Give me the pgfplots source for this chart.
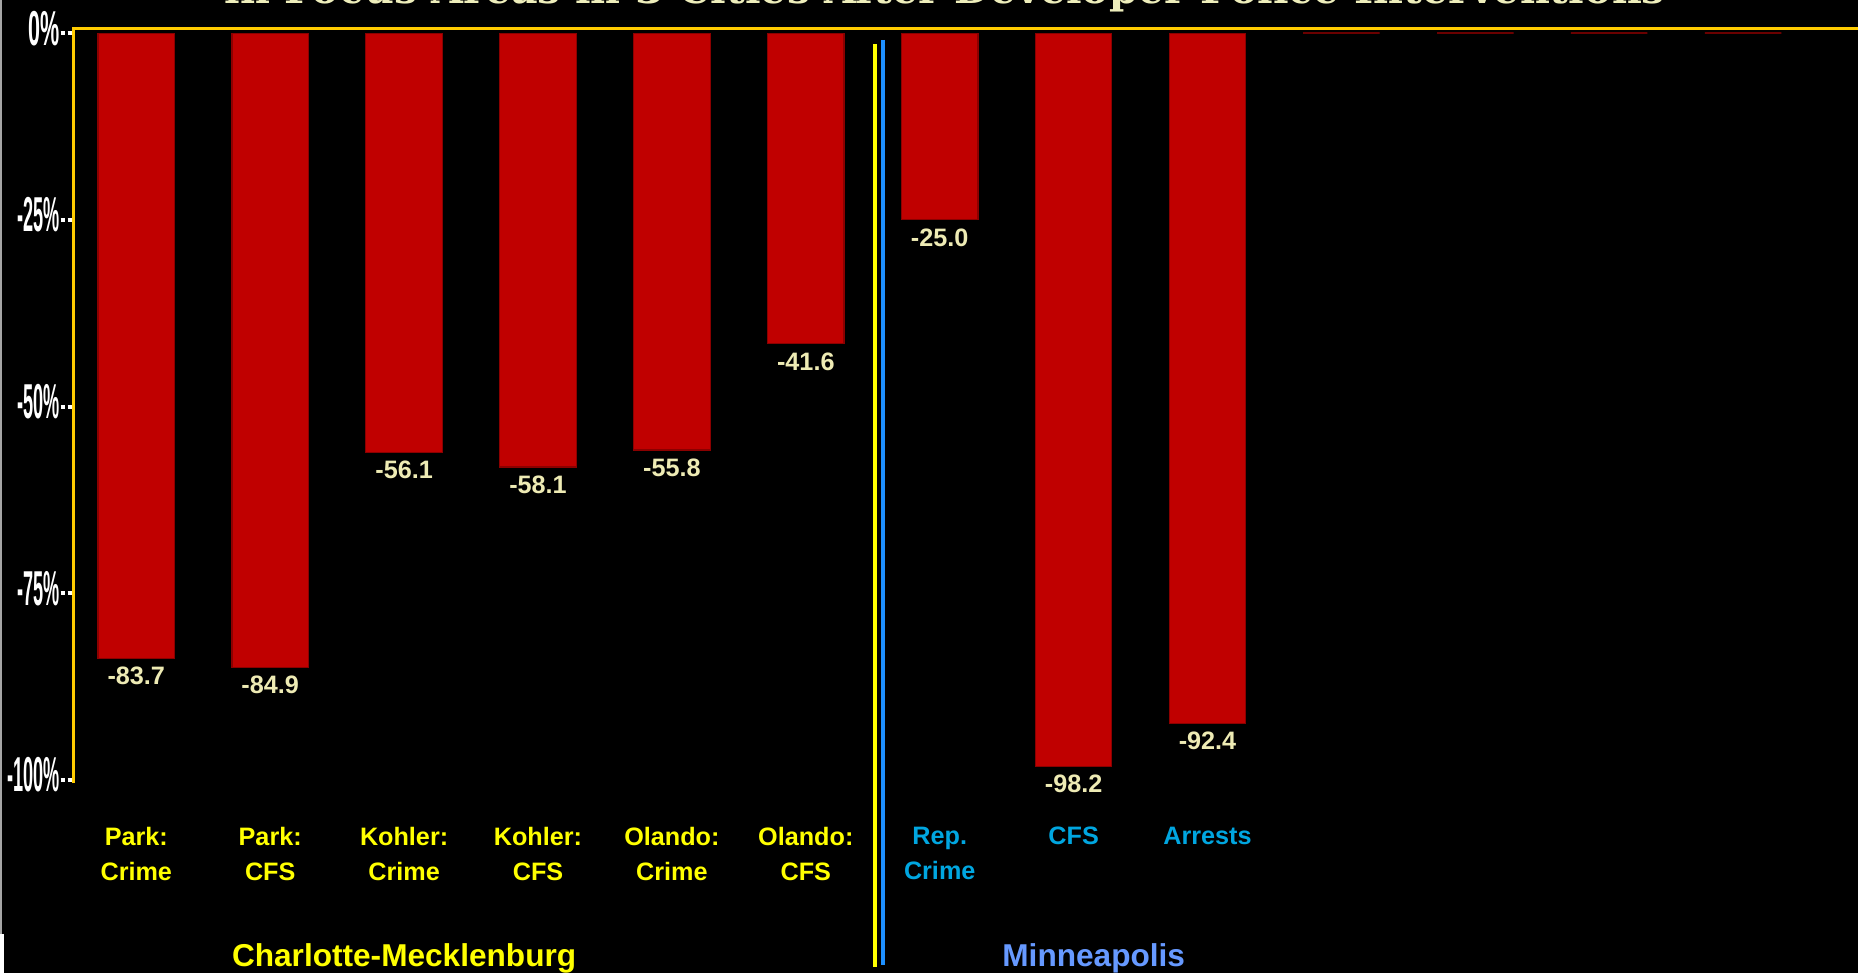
\documentclass[border=0pt]{standalone}
\usepackage{fontspec}
\setmainfont{Liberation Sans}
\newfontfamily\titlefont{DejaVu Serif}
\usepackage{graphicx}
\usepackage{pgfplots}
\pgfplotsset{compat=1.18}

\definecolor{barred}{HTML}{C00000}
\definecolor{baredge}{HTML}{8B0000}
\definecolor{emptyedge}{HTML}{6A0000}
\definecolor{axisgold}{HTML}{FFCC00}
\definecolor{valcream}{HTML}{EEEBB4}
\definecolor{cltyellow}{HTML}{FFFF00}
\definecolor{mplsblue}{HTML}{00A6E0}
\definecolor{mplsgroup}{HTML}{6699FF}
\definecolor{sepblue}{HTML}{1E90FF}
\definecolor{titlecream}{HTML}{EEEEBB}

% narrow, tall percentage labels on the y axis
\newcommand{\yl}[2][0.37]{\scalebox{#1}[1]{#2}}
% category label colours per city
\newcommand{\cy}[1]{\textcolor{cltyellow}{#1}}
\newcommand{\cb}[1]{\textcolor{mplsblue}{#1}}

\begin{document}
\begin{tikzpicture}
% black page and frame of the picture
\path[use as bounding box, fill=black] (-36.75pt,14.2pt) rectangle (892.25pt,-472.3pt);
\clip (-36.75pt,14.2pt) rectangle (892.25pt,-472.3pt);
\draw[color=gray!70, line width=1pt] (-36.25pt,14.2pt) -- (-36.25pt,-453pt);
\fill[white] (-36.75pt,-453pt) rectangle (-34.5pt,-472.3pt);

% title line (its upper part runs off the top edge)
\node[anchor=base, text=titlecream, inner sep=0pt] at (435.75pt,12.6pt)
  {\resizebox{720pt}{!}{\titlefont\bfseries in Focus Areas in 3 Cities After Developer Police Interventions}};

\begin{axis}[
  at={(0,0)}, anchor=north west,
  scale only axis, width=892.25pt, height=377.3pt,
  xmin=-0.469, xmax=12.858, ymin=-100.4, ymax=0.64,
  axis line style={draw=none},
  clip=false,
  ybar, bar width=38.25pt,
  xtick={0,...,8},
  xticklabels={
    {\cy{Park:}\\\cy{Crime}},
    {\cy{Park:}\\\cy{CFS}},
    {\cy{Kohler:}\\\cy{Crime}},
    {\cy{Kohler:}\\\cy{CFS}},
    {\cy{Olando:}\\\cy{Crime}},
    {\cy{Olando:}\\\cy{CFS}},
    {\cb{Rep.}\\\cb{Crime}},
    {\cb{CFS}},
    {\cb{Arrests}}},
  x tick style={draw=none},
  xticklabel style={anchor=north, align=center, inner sep=0pt,
    font=\fontsize{12.6}{17.5}\selectfont\bfseries, yshift=-15.3pt},
  ytick={-100,-75,-50,-25,0},
  yticklabels={\yl{-100\%},\yl{-75\%},\yl{-50\%},\yl{-25\%},\yl[0.44]{0\%}},
  yticklabel style={font=\fontsize{24.5}{24.5}\selectfont\bfseries, text=white,
    inner sep=0pt, anchor=east, yshift=2.5pt},
  y tick style={white, line width=2pt, dash pattern=on 2.4pt off 1.1pt},
  tick align=outside, major tick length=6.5pt,
  ytick pos=left,
]

% Charlotte-Mecklenburg and Minneapolis changes (%)
\addplot[fill=barred, draw=baredge, line width=0.6pt, bar shift=0pt,
  point meta=explicit symbolic,
  nodes near coords={\pgfplotspointmeta},
  every node near coord/.append style={text=valcream,
    font=\fontsize{12.6}{12.6}\selectfont\bfseries, anchor=north, inner sep=4pt}]
  coordinates {
    (0,-83.7) [-83.7]
    (1,-84.9) [-84.9]
    (2,-56.1) [-56.1]
    (3,-58.1) [-58.1]
    (4,-55.8) [-55.8]
    (5,-41.6) [-41.6]
    (6,-25.0) [-25.0]
    (7,-98.2) [-98.2]
    (8,-92.4) [-92.4]
  };

% unused slots on the right
\addplot[fill=barred, draw=emptyedge, line width=1pt, bar shift=0pt]
  coordinates {(9,0) (10,0) (11,0) (12,0)};

% axis lines
\draw[axisgold, line width=1.3pt] (rel axis cs:0,0) -- (rel axis cs:0,1) -- (rel axis cs:1,1);

% divider between the two cities
\draw[cltyellow, line width=1.6pt] (axis cs:5.517,-1.5) -- (axis cs:5.517,-125);
\draw[sepblue, line width=1.6pt] (axis cs:5.577,-0.9) -- (axis cs:5.577,-124.8);

% city names
\node[anchor=base, text=cltyellow, inner sep=0pt,
  font=\fontsize{15.8}{15.8}\selectfont\bfseries] at (axis cs:2,-125) {Charlotte-Mecklenburg};
\node[anchor=base, text=mplsgroup, inner sep=0pt,
  font=\fontsize{15.8}{15.8}\selectfont\bfseries] at (axis cs:7.15,-125) {Minneapolis};
\end{axis}
\end{tikzpicture}
\end{document}
